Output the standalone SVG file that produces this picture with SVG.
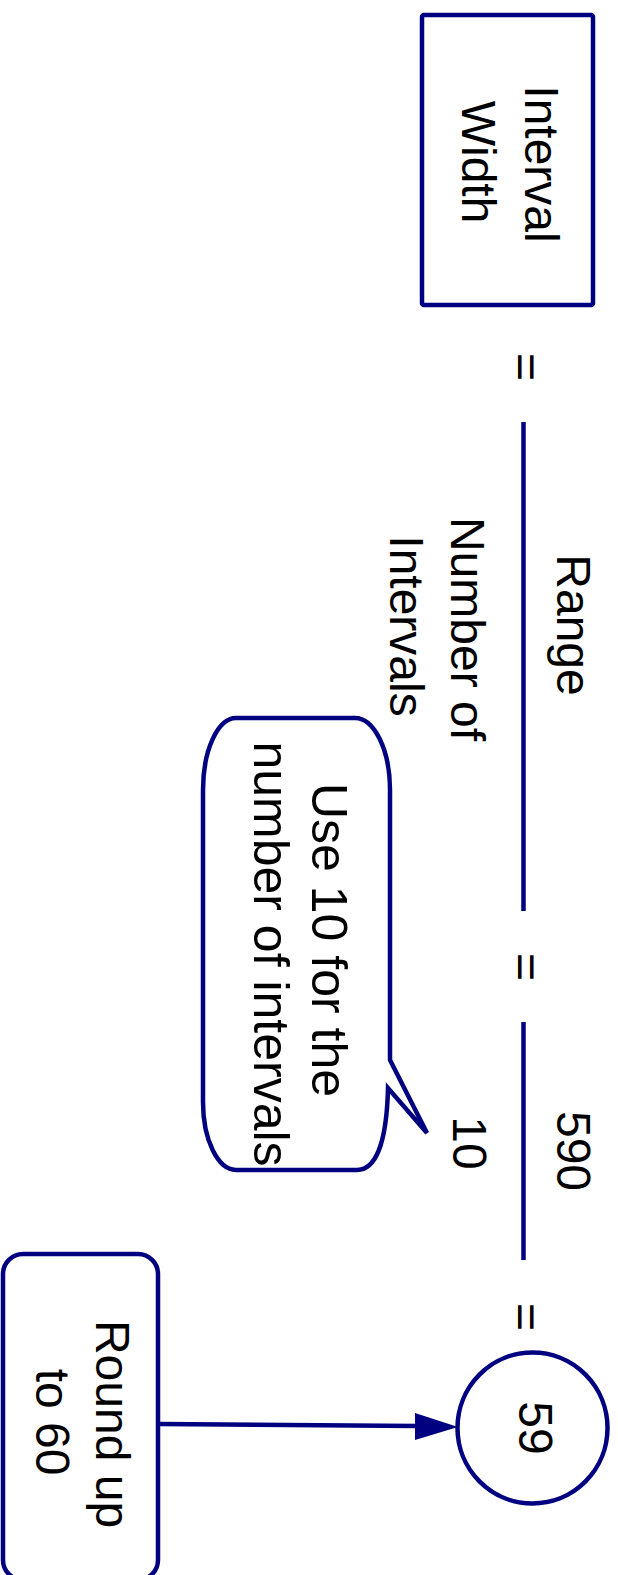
<svg xmlns="http://www.w3.org/2000/svg" width="618" height="1575" viewBox="0 0 618 1575">
<style>
.t{font-family:"Liberation Sans",Arial,sans-serif;font-size:48px;fill:#000;text-anchor:middle}
.c{font-size:50px}
.n{fill:#fff;stroke:#000080;stroke-width:4.5}
.ln{stroke:#000080;stroke-width:4.5;fill:none}
</style>
<rect width="618" height="1575" fill="#fff"/>
<g id="connectors">
<line class="ln" x1="523.5" y1="422" x2="523.5" y2="911"/>
<line class="ln" x1="523.5" y1="1022" x2="523.5" y2="1260"/>
<line class="ln" x1="159" y1="1424" x2="418" y2="1426"/>
<polygon points="415,1413 458,1427 415,1440" fill="#000080"/>
</g>
<g id="interval-width">
<rect class="n" x="422" y="15" width="171" height="290" rx="2"/>
<text class="t" transform="translate(524.5,164) rotate(90)">Interval</text>
<text class="t" transform="translate(461.5,162) rotate(90)">Width</text>
</g>
<g id="eq1"><text class="t" transform="translate(509.5,367) rotate(90)">=</text></g>
<g id="range"><text class="t" transform="translate(557,625) rotate(90)">Range</text></g>
<g id="number-of-intervals">
<text class="t" transform="translate(451,629) rotate(90)">Number of</text>
<text class="t" transform="translate(390,626) rotate(90)">Intervals</text>
</g>
<g id="callout">
<path class="n" d="M236,718 H355 A35 72 0 0 1 390,790 V1060 L427,1133 L388,1088 C387,1130 380,1170 357,1170 H236 A33 68 0 0 1 203,1102 V790 A33 72 0 0 1 236,718 Z"/>
<text class="t c" transform="translate(311.5,940) rotate(90)">Use 10 for the</text>
<text class="t c" transform="translate(253.5,954) rotate(90)">number of intervals</text>
</g>
<g id="eq2"><text class="t" transform="translate(509.5,967) rotate(90)">=</text></g>
<g id="v590"><text class="t" transform="translate(556.5,1151) rotate(90)">590</text></g>
<g id="v10"><text class="t" transform="translate(453,1143) rotate(90)">10</text></g>
<g id="eq3"><text class="t" transform="translate(509.5,1317) rotate(90)">=</text></g>
<g id="result">
<ellipse class="n" cx="532.5" cy="1428" rx="75" ry="75.5"/>
<text class="t" transform="translate(519,1428) rotate(90)">59</text>
</g>
<g id="round-up">
<rect class="n" x="3" y="1254" width="155" height="326" rx="20"/>
<text class="t" transform="translate(96,1424) rotate(90)">Round up</text>
<text class="t" transform="translate(36,1422) rotate(90)">to 60</text>
</g>
</svg>
